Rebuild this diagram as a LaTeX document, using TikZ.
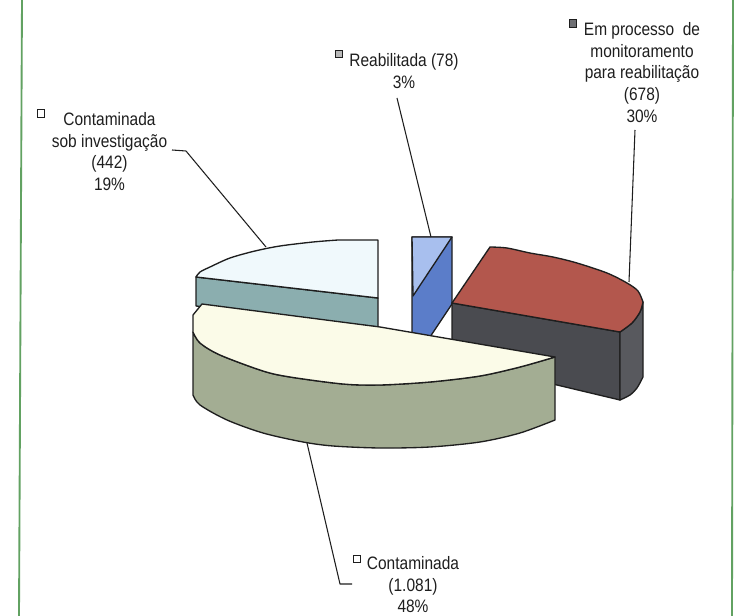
\documentclass[tikz,border=0pt]{standalone}
\usepackage{fontspec}
\setmainfont[FakeStretch=0.86]{Liberation Sans}
\definecolor{creamtop}{HTML}{FBFBE8}
\definecolor{sideolive}{HTML}{A3AD93}
\definecolor{cyantop}{HTML}{F0F9FC}
\definecolor{tealside}{HTML}{8BAEAF}
\definecolor{bluelt}{HTML}{A8BFEE}
\definecolor{bluedk}{HTML}{5B7DC9}
\definecolor{redtop}{HTML}{B3574D}
\definecolor{darkside}{HTML}{4A4B50}
\definecolor{framegreen}{HTML}{62A262}
\definecolor{ink}{HTML}{1E1E1E}
\tikzset{
  face/.style={draw=ink, line width=1pt, line join=round},
  lead/.style={draw=ink, line width=0.8pt, line join=round},
  lbl/.style={font=\fontsize{13.5}{16.3}\selectfont, align=center, inner sep=0pt, anchor=north, text=ink},
  legkey/.style={draw=ink, line width=0.9pt, minimum size=5.8pt, inner sep=0pt},
  frameline/.style={draw=framegreen, line width=1.4pt}
}
\begin{document}
\begin{tikzpicture}[x=0.75pt,y=-0.75pt]
\useasboundingbox (0,0) rectangle (754,616);
% frame
\draw[frameline] (22,0) -- (19,616);
\draw[frameline] (733,0) -- (732,616);

% slice: Contaminada sob investigacao (back left)
\path[face, fill=tealside] (196,277) -- (378,298) -- (378,327) -- (196,306) -- cycle;
\path[face, fill=cyantop] (378,240) -- (378,298) -- (196,277)
  -- plot[smooth] coordinates {(196,277) (200,272) (210,267) (230,258) (255,251) (280,246) (313,242) (338,240)} -- cycle;

% slice: Reabilitada (back)
\path[face, fill=bluedk] (412,237) -- (452,237) -- (452,304) -- (428,340) -- (412,340) -- cycle;
\path[face, fill=bluelt] (412,237) -- (452,237) -- (413,296) -- cycle;

% slice: Em processo (right)
\path[face, fill=darkside] (452,303) -- (620,332) -- (620,400) -- (452,360) -- cycle;
\path[face, fill=darkside!92!white] (620,332)
  -- plot[smooth] coordinates {(620,332) (632,323) (640,312) (643,302)} -- (643,377)
  -- plot[smooth] coordinates {(643,377) (637,388) (630,395) (620,400)} -- cycle;
\path[face, fill=redtop] (452,303) -- (490,247)
  -- plot[smooth] coordinates {(490,247) (507,248) (530,253) (553,257) (577,263) (607,273) (627,283) (638,291) (643,302)}
  -- plot[smooth] coordinates {(643,302) (640,312) (632,323) (620,332)} -- cycle;

% slice: Contaminada (front)
\path[face, fill=sideolive] (193,332) -- (193,395)
  -- plot[smooth] coordinates {(193,395) (200,405) (227,420) (263,433) (303,442) (333,446) (380,448) (430,447) (480,442) (520,433) (555,420)}
  -- (555,357)
  -- plot[smooth] coordinates {(555,357) (520,367) (480,376) (430,382) (380,385) (343,384) (290,377) (263,371) (220,355) (200,343) (193,332)} -- cycle;
\path[face, fill=creamtop] (202,304) -- (380,327) -- (555,357)
  -- plot[smooth] coordinates {(555,357) (520,367) (480,376) (430,382) (380,385) (343,384) (290,377) (263,371) (220,355) (200,343) (193,332)}
  -- (193,315) -- cycle;

% labels
\node[lbl] (reab) at (404,53) {Reabilitada (78)\\3\%};
\node[legkey, fill=gray!55] (reabkey) at (339,54) {};
\node[lbl] (emproc) at (642,22) {Em processo \ de\\monitoramento\\para reabilitação\\(678)\\30\%};
\node[legkey, fill=darkside!80] (emkey) at (573,23.5) {};
\node[lbl] (sobinv) at (109.5,112) {Contaminada\\sob investigação\\(442)\\19\%};
\node[legkey, fill=white] (sobkey) at (41,113.5) {};
\node[lbl] (cont) at (413,556) {Contaminada\\(1.081)\\48\%};
\node[legkey, fill=white] (contkey) at (357,559) {};

% leader lines
\coordinate (l1a) at (172,150);
\coordinate (l1b) at (186,151);
\coordinate (l1c) at (266,247);
\coordinate (l2a) at (397,98);
\coordinate (l2b) at (431,237);
\coordinate (l3a) at (635,130);
\coordinate (l3b) at (629,282);
\coordinate (l4a) at (307,443);
\coordinate (l4b) at (340,584);
\coordinate (l4c) at (352,584);
\draw[lead] (l1a) -- (l1b) -- (l1c);
\draw[lead] (l2a) -- (l2b);
\draw[lead] (l3a) -- (l3b);
\draw[lead] (l4a) -- (l4b) -- (l4c);
\end{tikzpicture}
\end{document}
